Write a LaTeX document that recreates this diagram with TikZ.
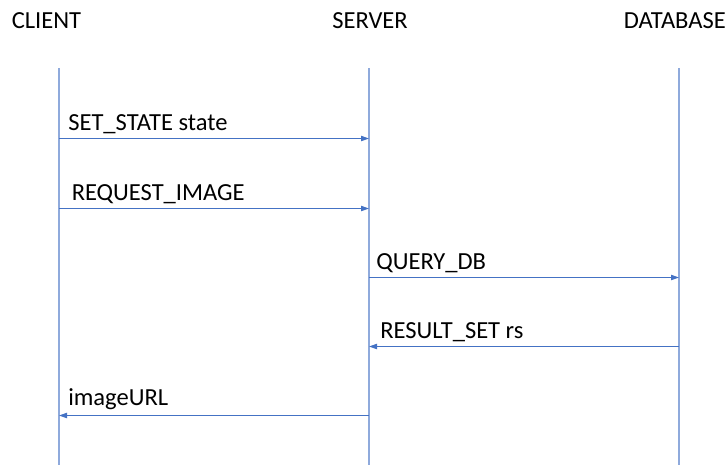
\documentclass[tikz,border=0pt]{standalone}
\usepackage{fontspec}
\setmainfont{Carlito}
\usetikzlibrary{arrows.meta}
\definecolor{lifeblue}{RGB}{143,170,220}
\definecolor{msgblue}{RGB}{68,114,196}
\begin{document}
\begin{tikzpicture}[x = 0.75pt, y = -0.75pt, >={Triangle[length=6pt,width=4pt]},
		lifeline/.style = {lifeblue, line width = 1pt},
		msg/.style = {->, msgblue, line width = 0.8pt},
		lbl/.style = {inner sep = 0pt, font = \fontsize{18.4}{22}\selectfont}]
		\useasboundingbox (0,0) rectangle (728,465);
		\node[lbl, anchor = base west] (client) at (11.5,28) {CLIENT};
		\node[lbl, anchor = base] (server) at (370,28) {SERVER};
		\node[lbl, anchor = base east] (database) at (726,28) {DATABASE};
		\foreach \n/\x in {c/59, s/369, d/679}{
			\coordinate (\n top) at (\x,68);
			\coordinate (\n bot) at (\x,465);
			\draw[lifeline] (\n top) -- (\n bot);
		}
		\foreach \n/\y in {1/138.5, 2/208.5, 3/277.5, 4/346.5, 5/415.5}{
			\coordinate (c\n) at (59,\y);
			\coordinate (s\n) at (369,\y);
			\coordinate (d\n) at (679,\y);
		}
		\draw[msg] (c1) -- (s1);
		\draw[msg] (c2) -- (s2);
		\draw[msg] (s3) -- (d3);
		\draw[msg] (d4) -- (s4);
		\draw[msg] (s5) -- (c5);
		\node[lbl, anchor = base west] (m1) at (68,130.5) {SET\_STATE state};
		\node[lbl, anchor = base west] (m2) at (71.5,200) {REQUEST\_IMAGE};
		\node[lbl, anchor = base west] (m3) at (376,269) {QUERY\_DB};
		\node[lbl, anchor = base west] (m4) at (380,338.5) {RESULT\_SET rs};
		\node[lbl, anchor = base west] (m5) at (68,405) {imageURL};
\end{tikzpicture}
\end{document}
